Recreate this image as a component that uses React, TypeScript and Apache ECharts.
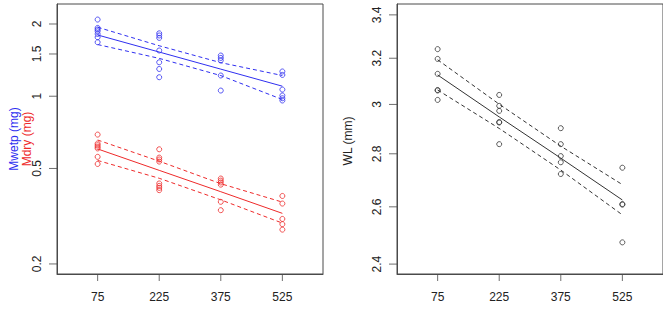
import { useEffect, useRef } from "react";
import * as echarts from "echarts";

// Dose levels (x) shared by both panels
const xTicks = [75, 225, 375, 525];

// Left panel: wet mass (blue) and dry mass (red), mg, log scale
const mwetp75 = [2.087, 1.926, 1.896, 1.866, 1.818, 1.762, 1.679];
const mwetp225 = [1.829, 1.791, 1.75, 1.551, 1.385, 1.299, 1.2];
const mwetp375 = [1.478, 1.444, 1.409, 1.22, 1.056];
const mwetp525 = [1.268, 1.227, 1.066, 1.007, 0.981, 0.96];

const mdry75 = [0.692, 0.635, 0.625, 0.615, 0.606, 0.559, 0.522];
const mdry225 = [0.601, 0.555, 0.545, 0.534, 0.433, 0.423, 0.415, 0.406];
const mdry375 = [0.454, 0.445, 0.437, 0.428, 0.363, 0.335];
const mdry525 = [0.384, 0.357, 0.308, 0.293, 0.278];

// Fitted line and confidence band at each dose
const mwetpFit = [1.8, 1.528, 1.297, 1.101];
const mwetpUpper = [1.939, 1.623, 1.38, 1.22];
const mwetpLower = [1.642, 1.438, 1.219, 0.969];

const mdryFit = [0.603, 0.491, 0.4, 0.325];
const mdryUpper = [0.657, 0.536, 0.432, 0.362];
const mdryLower = [0.54, 0.455, 0.37, 0.296];

// Right panel: wing length, mm, log scale
const wl75 = [3.241, 3.197, 3.131, 3.061, 3.059, 3.019];
const wl225 = [3.04, 2.994, 2.973, 2.927, 2.925, 2.838];
const wl375 = [2.902, 2.838, 2.791, 2.767, 2.722];
const wl525 = [2.746, 2.61, 2.608, 2.474];

const wlFit = [3.126, 2.948, 2.783, 2.625];
const wlUpper = [3.193, 3.001, 2.83, 2.682];
const wlLower = [3.061, 2.901, 2.737, 2.571];

// Axis ranges and tick labels
const xRange = [-24, 624];
const leftYRange = [0.1816, 2.423];
const leftYTicks = [0.2, 0.5, 1, 1.5, 2];
const rightYRange = [2.367, 3.452];
const rightYTicks = [2.4, 2.6, 2.8, 3, 3.2, 3.4];

const BLUE = "#2f2ff0";
const RED = "#ee2a2a";
const BLACK = "#333333";
const AXIS = "#4a4a4a";
const FONT = "Liberation Sans, Arial, sans-serif";

const lg = (v: number) => Math.log10(v);

function points(groups: number[][]) {
  const out: number[][] = [];
  groups.forEach((vals, i) => vals.forEach((v) => out.push([xTicks[i], lg(v)])));
  return out;
}

function curve(vals: number[]) {
  return vals.map((v, i) => [xTicks[i], lg(v)]);
}

function scatter(idx: number, groups: number[][], color: string) {
  return {
    type: "scatter",
    xAxisIndex: idx,
    yAxisIndex: idx,
    data: points(groups),
    symbol: "circle",
    symbolSize: 5,
    itemStyle: { color: "transparent", borderColor: color, borderWidth: 1 },
    z: 3,
  };
}

function line(idx: number, vals: number[], color: string, dashed: boolean) {
  return {
    type: "line",
    xAxisIndex: idx,
    yAxisIndex: idx,
    data: curve(vals),
    showSymbol: false,
    symbol: "none",
    lineStyle: { color, width: 1, type: dashed ? [4, 3] : "solid" },
    z: 2,
  };
}

// Outward tick marks drawn as thin rect symbols sitting on the frame
function xTickMarks(idx: number, yRange: number[]) {
  return {
    type: "scatter",
    xAxisIndex: idx,
    yAxisIndex: idx,
    data: xTicks.map((t) => [t, lg(yRange[0])]),
    symbol: "rect",
    symbolSize: [1, 7],
    symbolOffset: [0, 3.5],
    itemStyle: { color: AXIS },
    clip: false,
    silent: true,
    z: 5,
  };
}

function yTickMarks(idx: number, ticks: number[]) {
  return {
    type: "scatter",
    xAxisIndex: idx,
    yAxisIndex: idx,
    data: ticks.map((t) => [xRange[0], lg(t)]),
    symbol: "rect",
    symbolSize: [8, 1],
    symbolOffset: [-4, 0],
    itemStyle: { color: AXIS },
    clip: false,
    silent: true,
    z: 5,
  };
}

function xAxis(grid: number) {
  return {
    type: "value",
    gridIndex: grid,
    position: "bottom",
    min: xRange[0],
    max: xRange[1],
    splitLine: { show: false },
    axisLine: { show: true, onZero: false, lineStyle: { color: AXIS, width: 1 } },
    axisTick: { show: false },
    axisLabel: {
      customValues: xTicks,
      margin: 17,
      fontSize: 12,
      color: "#222",
      fontFamily: FONT,
    },
  };
}

function yAxis(grid: number, range: number[], ticks: number[]) {
  return {
    type: "value",
    gridIndex: grid,
    position: "left",
    min: lg(range[0]),
    max: lg(range[1]),
    splitLine: { show: false },
    axisLine: { show: true, onZero: false, lineStyle: { color: AXIS, width: 1 } },
    axisTick: { show: false },
    axisLabel: {
      customValues: ticks.map(lg),
      rotate: 90,
      margin: 14,
      fontSize: 12,
      color: "#222",
      fontFamily: FONT,
      formatter: (v: number) => String(Number(Math.pow(10, v).toFixed(1))),
    },
  };
}

function axisTitles() {
  const title = (text: string, x: number, y: number, fill: string) => ({
    type: "text",
    x,
    y,
    rotation: Math.PI / 2,
    style: { text, fill, font: `12px ${FONT}`, align: "center", verticalAlign: "middle" },
  });
  return [
    title("Mwetp (mg)", 14, 139, BLUE),
    title("Mdry (mg)", 27, 139, RED),
    title("WL (mm)", 348, 141, "#222"),
  ];
}

export default function App() {
  const ref = useRef<HTMLDivElement>(null);

  useEffect(() => {
    document.body.style.margin = "0";
    if (!ref.current) return;
    const chart = echarts.init(ref.current, undefined, { renderer: "svg" });
    chart.setOption({
      animation: false,
      backgroundColor: "#ffffff",
      grid: [
        { left: 57, top: 4, width: 266, height: 270, show: true, borderColor: AXIS, borderWidth: 1, backgroundColor: "transparent" },
        { left: 397, top: 4, width: 266, height: 270, show: true, borderColor: AXIS, borderWidth: 1, backgroundColor: "transparent" },
      ],
      xAxis: [xAxis(0), xAxis(1)],
      yAxis: [yAxis(0, leftYRange, leftYTicks), yAxis(1, rightYRange, rightYTicks)],
      series: [
        scatter(0, [mwetp75, mwetp225, mwetp375, mwetp525], BLUE),
        line(0, mwetpFit, BLUE, false),
        line(0, mwetpUpper, BLUE, true),
        line(0, mwetpLower, BLUE, true),
        scatter(0, [mdry75, mdry225, mdry375, mdry525], RED),
        line(0, mdryFit, RED, false),
        line(0, mdryUpper, RED, true),
        line(0, mdryLower, RED, true),
        scatter(1, [wl75, wl225, wl375, wl525], BLACK),
        line(1, wlFit, BLACK, false),
        line(1, wlUpper, BLACK, true),
        line(1, wlLower, BLACK, true),
        xTickMarks(0, leftYRange),
        yTickMarks(0, leftYTicks),
        xTickMarks(1, rightYRange),
        yTickMarks(1, rightYTicks),
      ],
      graphic: axisTitles(),
    });
    return () => chart.dispose();
  }, []);

  return <div ref={ref} style={{ width: 663, height: 314 }} />;
}
